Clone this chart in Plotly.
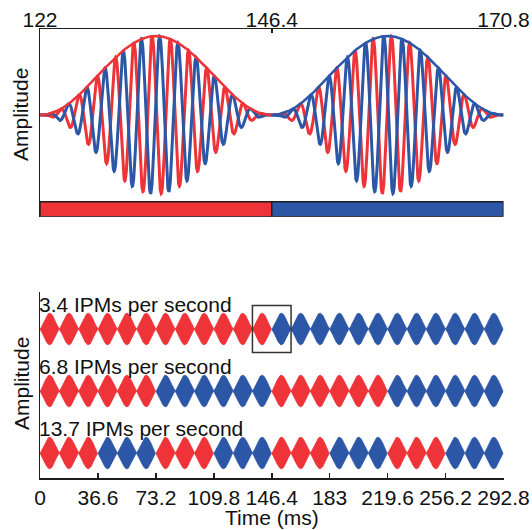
import numpy as np
import plotly.graph_objects as go

COLORS = {"red": "#EE3438", "blue": "#2C57A7"}
AXIS = "#1e1e1e"
FONT = "Liberation Sans, Arial, sans-serif"
FS = 21

# ---------------- top panel data ----------------
top_ticks = [122, 146.4, 170.8]
top_tick_text = ["122", "146.4", "170.8"]
top_lobe_starts = [122, 146.4]
top_lobe_ends = [146.4, 170.8]
top_leading = ["red", "blue"]          # ear leading in phase during each lobe
carrier_hz = 520
ipd_deg = 150
bar_starts = [122, 146.4]
bar_ends = [146.4, 170.8]
bar_colors = ["red", "blue"]

# ---------------- bottom panel data ----------------
bottom_ticks = [0, 36.6, 73.2, 109.8, 146.4, 183, 219.6, 256.2, 292.8]
bottom_tick_text = ["0", "36.6", "73.2", "109.8", "146.4", "183", "219.6", "256.2", "292.8"]
row_labels = ["3.4 IPMs per second", "6.8 IPMs per second", "13.7 IPMs per second"]
row_switch_ms = [146.4, 73.2, 36.6]
row_segment_colors = [
    ["red", "blue"],
    ["red", "blue", "red", "blue"],
    ["red", "blue", "red", "blue", "red", "blue", "red", "blue"],
]
bottom_lobe_ms = 12.2
box_center_ms = 146.4

# ---------------- layout constants (pixels -> paper) ----------------
W, H = 532, 530
X0, X1 = 40, 503.5
TOP_Y0, TOP_Y1 = 29.3, 216.7
BOT_Y0, BOT_Y1 = 292, 478
def py(p):
    return (H - p) / H
def px(p):
    return p / W

top_yrange = [-1.287, 1.085]
bar_y = [-1.287, -1.097]
bot_yrange = [-0.403, 2.597]
row_centres = [2, 1, 0]
lobe_amp = 0.255
lobe_pow = 1.4
box_half_h = 0.379

fig = go.Figure()

# ---- top waveforms ----
red_t, red_y, blue_t, blue_y = [], [], [], []
env_traces = []
for s0, s1, lead in zip(top_lobe_starts, top_lobe_ends, top_leading):
    t = np.linspace(s0, s1, 1500)
    env = np.sin(np.pi * (t - s0) / (s1 - s0)) ** 2
    tc = 0.5 * (s0 + s1)
    sgn = 1 if lead == "red" else -1
    ph = sgn * np.deg2rad(ipd_deg) / 2
    w = 2 * np.pi * carrier_hz * (t - tc) / 1000.0
    red_t += list(t); red_y += list(env * np.cos(w + ph))
    blue_t += list(t); blue_y += list(env * np.cos(w - ph))
    env_traces.append((t, env, lead))

fig.add_trace(go.Scatter(x=red_t, y=red_y, mode="lines",
                         line=dict(color=COLORS["red"], width=3), xaxis="x", yaxis="y",
                         hoverinfo="skip", showlegend=False))
fig.add_trace(go.Scatter(x=blue_t, y=blue_y, mode="lines",
                         line=dict(color=COLORS["blue"], width=3), xaxis="x", yaxis="y",
                         hoverinfo="skip", showlegend=False))
for t, env, lead in env_traces:
    fig.add_trace(go.Scatter(x=t, y=env, mode="lines",
                             line=dict(color=COLORS[lead], width=2.5), xaxis="x", yaxis="y",
                             hoverinfo="skip", showlegend=False))

# ---- top colour bar ----
shapes = []
for b0, b1, c in zip(bar_starts, bar_ends, bar_colors):
    shapes.append(dict(type="rect", xref="x", yref="y", x0=b0, x1=b1,
                       y0=bar_y[0], y1=bar_y[1], fillcolor=COLORS[c],
                       line=dict(color=AXIS, width=1.5)))

# ---- bottom lobes ----
for r, (segs, sw, yc) in enumerate(zip(row_segment_colors, row_switch_ms, row_centres)):
    for cname in ("red", "blue"):
        xs, ys = [], []
        for k, c in enumerate(segs):
            if c != cname:
                continue
            a0 = k * sw
            t = np.linspace(a0, a0 + sw, 600)
            env = lobe_amp * np.abs(np.sin(np.pi * (t - a0) / bottom_lobe_ms)) ** lobe_pow
            xs += list(t) + list(t[::-1]) + [None]
            ys += list(yc + env) + list((yc - env)[::-1]) + [None]
        fig.add_trace(go.Scatter(x=xs, y=ys, mode="lines", fill="toself",
                                 fillcolor=COLORS[cname],
                                 line=dict(color=COLORS[cname], width=0.8),
                                 xaxis="x2", yaxis="y2", hoverinfo="skip", showlegend=False))

shapes.append(dict(type="rect", xref="x2", yref="y2",
                   x0=box_center_ms - bottom_lobe_ms, x1=box_center_ms + bottom_lobe_ms,
                   y0=row_centres[0] - box_half_h, y1=row_centres[0] + box_half_h,
                   line=dict(color="#333333", width=1.5), fillcolor="rgba(0,0,0,0)"))

annotations = []
for lab, yc in zip(row_labels, row_centres):
    annotations.append(dict(text=lab, xref="x2", yref="y2", x=0, y=yc + 0.40,
                            xanchor="left", yanchor="middle", showarrow=False,
                            xshift=-3, font=dict(family=FONT, size=FS, color="#111")))
annotations.append(dict(text="Amplitude", xref="paper", yref="paper", x=px(21), y=py(115),
                        textangle=-90, showarrow=False, xanchor="center", yanchor="middle",
                        font=dict(family=FONT, size=FS, color="#111")))
annotations.append(dict(text="Amplitude", xref="paper", yref="paper", x=px(21), y=py(384),
                        textangle=-90, showarrow=False, xanchor="center", yanchor="middle",
                        font=dict(family=FONT, size=FS, color="#111")))
annotations.append(dict(text="Time (ms)", xref="paper", yref="paper", x=px((X0 + X1) / 2),
                        y=py(517), showarrow=False, xanchor="center", yanchor="middle",
                        font=dict(family=FONT, size=FS, color="#111")))

axcommon = dict(showgrid=False, zeroline=False, showline=True, linecolor=AXIS, linewidth=1.5,
                tickfont=dict(family=FONT, size=FS, color="#111"), fixedrange=True,
                automargin=False, tickangle=0)

fig.update_layout(
    width=W, height=H, autosize=False,
    margin=dict(l=0, r=0, t=0, b=0, pad=0, autoexpand=False),
    paper_bgcolor="white", plot_bgcolor="white",
    showlegend=False,
    xaxis=dict(domain=[px(X0), px(X1)], anchor="y", side="top", range=[122, 170.8],
               tickmode="array", tickvals=top_ticks, ticktext=top_tick_text,
               ticks="inside", ticklen=4, tickwidth=1.5, tickcolor=AXIS,
               ticklabelstandoff=-8, **axcommon),
    yaxis=dict(domain=[py(TOP_Y1), py(TOP_Y0)], anchor="x", range=top_yrange,
               ticks="", showticklabels=False, **axcommon),
    xaxis2=dict(domain=[px(X0), px(X1)], anchor="y2", side="bottom", range=[0, 292.8],
                tickmode="array", tickvals=bottom_ticks, ticktext=bottom_tick_text,
                ticks="inside", ticklen=5, tickwidth=1.5, tickcolor=AXIS,
                ticklabelstandoff=0, **axcommon),
    yaxis2=dict(domain=[py(BOT_Y1), py(BOT_Y0)], anchor="x2", range=bot_yrange,
                ticks="", showticklabels=False, **axcommon),
    shapes=shapes,
    annotations=annotations,
)

fig.write_html(
    "out.html",
    config={"displayModeBar": False, "staticPlot": True},
    post_script="document.body.style.margin='0px';document.body.style.overflow='hidden';",
)
